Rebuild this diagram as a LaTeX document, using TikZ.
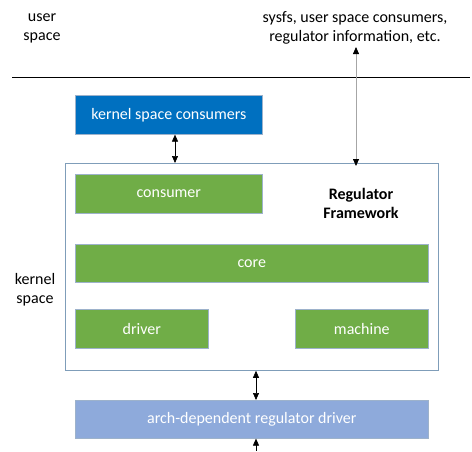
\documentclass[tikz,border=0pt]{standalone}
\usepackage{fontspec}
\setmainfont{Carlito}
\usetikzlibrary{arrows.meta,positioning}
\definecolor{kblue}{HTML}{0070C0}
\definecolor{kgreen}{HTML}{70AD47}
\definecolor{lblue}{HTML}{8EAADB}
\definecolor{fborder}{HTML}{7F9DB9}
\definecolor{boxedge}{HTML}{5B7FA8}
\tikzset{
  blk/.style={draw=boxedge!60, line width=0.6pt, text=white, font=\fontsize{16}{19}\selectfont, inner sep=0pt, anchor=north west},
  lbl/.style={font=\fontsize{16}{19}\selectfont, align=center, inner sep=0pt},
  dbl/.style={line width=0.6pt, {Triangle[length=7pt,width=6pt]}-{Triangle[length=7pt,width=6pt]}},
}
\begin{document}
\begin{tikzpicture}[x=1pt,y=-1pt]
\useasboundingbox (0,0) rectangle (472,451);
% labels
\node[lbl] (us) at (42,28) {user\\space};
\node[lbl] (ks) at (35,290) {kernel\\space};
\node[lbl] (sys) at (355,28) {sysfs, user space consumers,\\regulator information, etc.};
% separator
\coordinate (sepL) at (12,77);
\coordinate (sepR) at (470,77);
\draw[line width=0.8pt] (sepL) -- (sepR);
% boxes
\node[blk, fill=kblue, minimum width=187pt, minimum height=39pt] (ksc) at (75,95) {kernel space consumers};
\node[draw=fborder, line width=0.8pt, fill=white, minimum width=373pt, minimum height=207pt, anchor=north west, inner sep=0pt] (fw) at (65,163) {};
\node[blk, fill=kgreen, minimum width=187pt, minimum height=39pt] (cons) at (75,174) {consumer};
\node[lbl, font=\fontsize{16}{19}\selectfont\bfseries] (rf) at (361,203) {Regulator\\Framework};
\node[blk, fill=kgreen, minimum width=353pt, minimum height=38pt] (core) at (75,244) {core};
\node[blk, fill=kgreen, minimum width=133pt, minimum height=39pt] (drv) at (75,309) {driver};
\node[blk, fill=kgreen, minimum width=133pt, minimum height=39pt] (mach) at (295,309) {machine};
\node[blk, fill=lblue, minimum width=353pt, minimum height=38pt] (arch) at (75,400) {arch-dependent regulator driver};
% connectors
\coordinate (systop) at (356,47);
\draw[dbl] (ksc.south -| 175,0) -- (fw.north -| 175,0);
\draw[line width=0.8pt, draw=black!35, {Triangle[length=7pt,width=6pt,color=black]}-{Triangle[length=7pt,width=6pt,color=black]}] (systop) -- ([yshift=-3pt]fw.north -| systop);
\draw[dbl] (fw.south -| 256,0) -- (arch.north -| 256,0);
\coordinate (bot) at (256,451);
\draw[line width=0.6pt, {Triangle[length=7pt,width=6pt]}-] (arch.south -| 256,0) -- (bot);
\end{tikzpicture}
\end{document}
